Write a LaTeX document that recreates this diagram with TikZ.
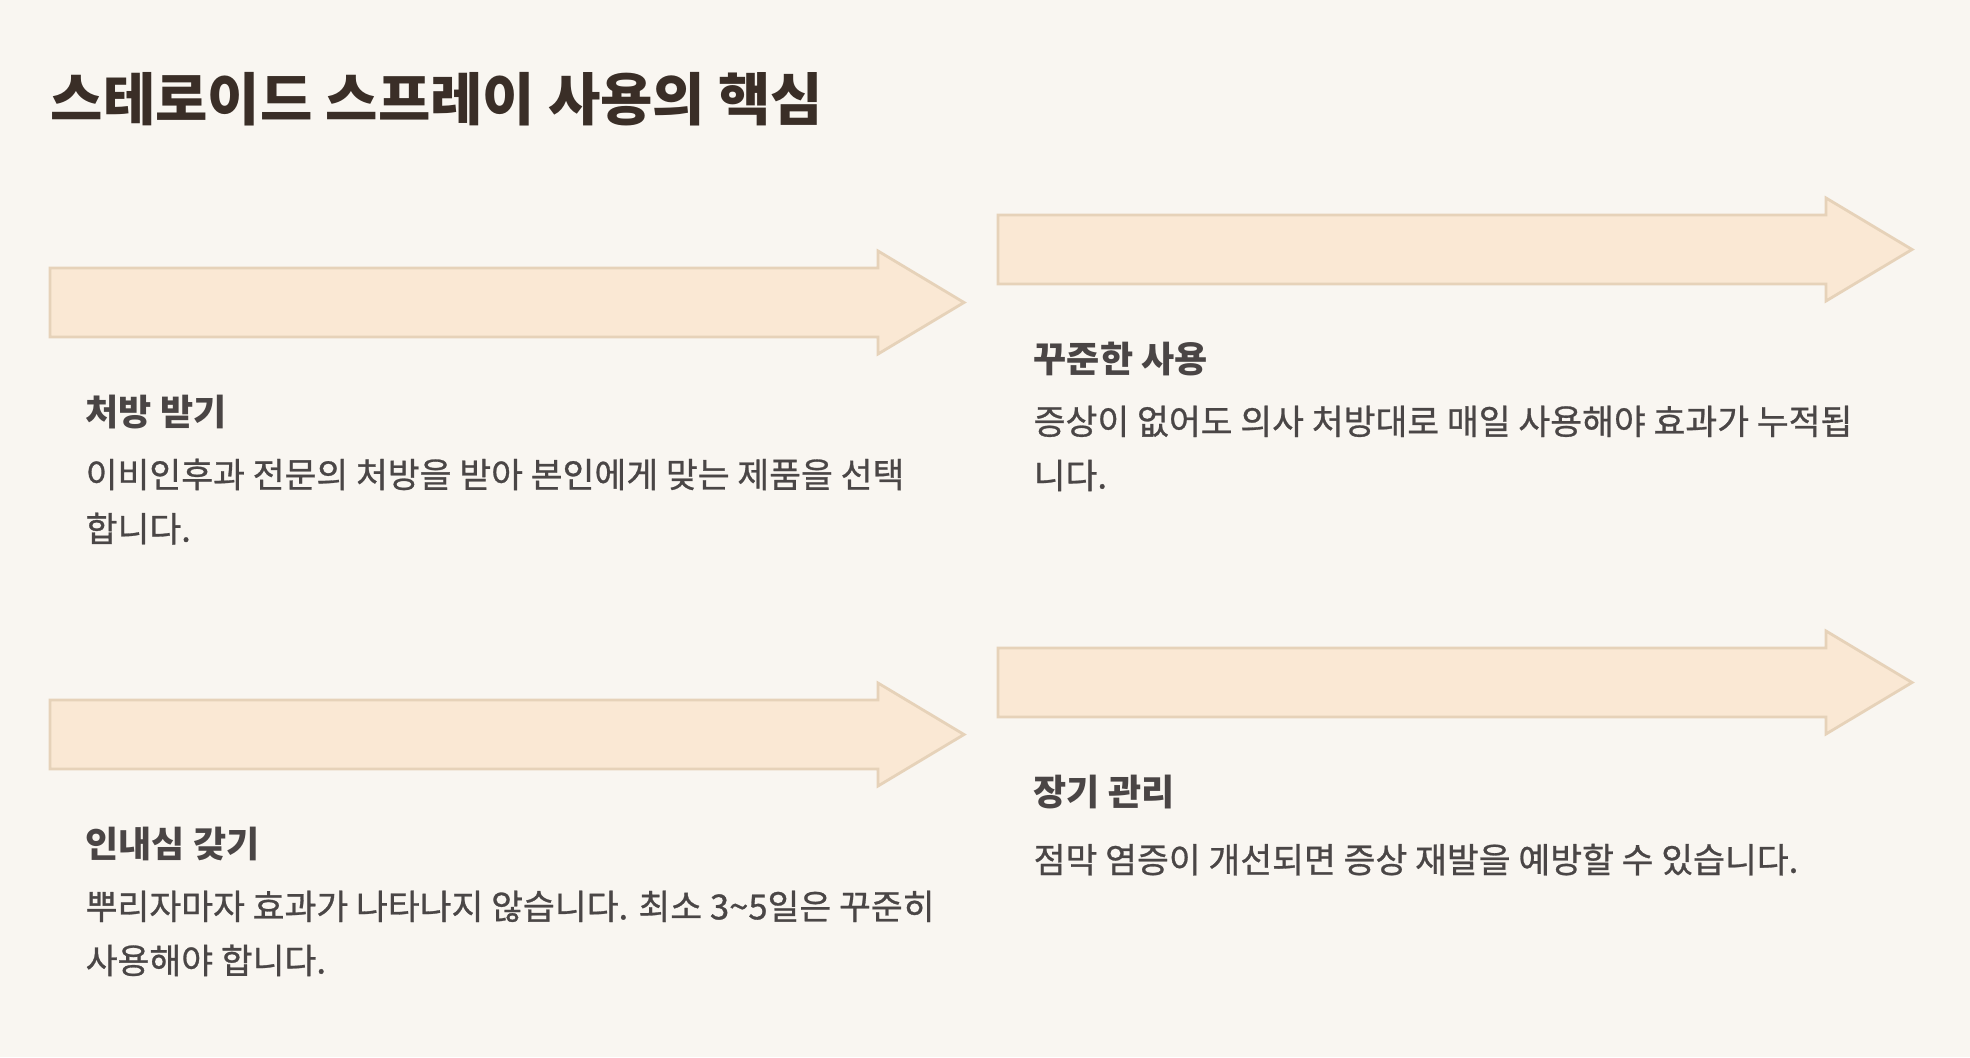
\documentclass[tikz,border=0pt]{standalone}
\usepackage{fontspec}
\newfontfamily\kr{Noto Sans CJK KR}
\newfontfamily\krmed[FakeBold=0.8]{Noto Sans CJK KR}
\definecolor{paper}{HTML}{F9F6F1}
\definecolor{bandfill}{HTML}{FAE8D4}
\definecolor{bandline}{HTML}{E6D2B9}
\definecolor{titlecolor}{HTML}{3A2E27}
\definecolor{headcolor}{HTML}{4A4545}
\definecolor{textcolor}{HTML}{4A4646}

\begin{document}
\begin{tikzpicture}[
    every node/.style={font=\kr, inner sep=0pt},
    ttl/.style={font=\kr\bfseries\fontsize{16.2pt}{19pt}\selectfont, text=titlecolor, anchor=base west},
    head/.style={font=\kr\bfseries\fontsize{10.25pt}{12pt}\selectfont, text=headcolor, anchor=base west},
    desc/.style={font=\krmed\fontsize{9.85pt}{15.4pt}\selectfont, text=textcolor, align=left,
                 anchor=north west, execute at begin node={\rule{0pt}{0.34cm}}},
    band/.style={fill=bandfill, draw=bandline, line width=0.8pt, line join=miter},
]

% ================================================ page
\fill[paper] (0,0) rectangle (19.70,-10.57);
\useasboundingbox (0,0) rectangle (19.70,-10.57);

\node[ttl] (title) at (0.50,-1.21) {스테로이드 스프레이 사용의 핵심};

% ================================================ the four steps
\foreach \i/\x/\y/\head/\body in {
    1/0.50/-2.68/{처방 받기}/{이비인후과 전문의 처방을 받아 본인에게 맞는 제품을 선택\\합니다.},
    2/9.98/-2.15/{꾸준한 사용}/{증상이 없어도 의사 처방대로 매일 사용해야 효과가 누적됩\\니다.},
    3/0.50/-7.00/{인내심 갖기}/{뿌리자마자 효과가 나타나지 않습니다. 최소 3\textasciitilde 5일은 꾸준히\\사용해야 합니다.},
    4/9.98/-6.48/{장기 관리}/{점막 염증이 개선되면 증상 재발을 예방할 수 있습니다.}}{
    \coordinate (a\i) at (\x,\y);
    \draw[band] (a\i) -- ++(8.28,0) -- ++(0,0.17) -- ({\x+9.14},{\y-0.345})
        -- ({\x+8.28},{\y-0.86}) -- ++(0,0.17) -- ({\x},{\y-0.69}) -- cycle;
    \node[head] (h\i) at ({\x+0.35},{\y-1.57}) {\head};
    \node[desc] (b\i) at ({\x+0.35},{\y-1.90}) {\body};
}

\end{tikzpicture}
\end{document}
